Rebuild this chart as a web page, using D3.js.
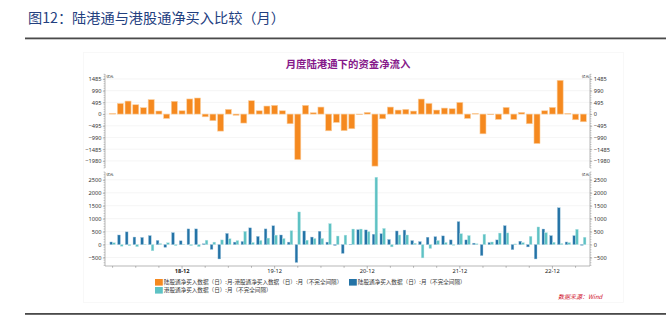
<!DOCTYPE html>
<html><head><meta charset="utf-8">
<script src="https://cdn.jsdelivr.net/npm/d3@7"></script>
<style>
html,body{margin:0;padding:0;background:#fff;}
svg{display:block;}
</style></head>
<body>
<svg id="c" width="666" height="329"></svg>
<script>
// Monthly categories, 2018-03 .. 2023-04
const months = [
  "18-03","18-04","18-05","18-06","18-07","18-08","18-09","18-10","18-11","18-12",
  "19-01","19-02","19-03","19-04","19-05","19-06","19-07","19-08","19-09","19-10","19-11","19-12",
  "20-01","20-02","20-03","20-04","20-05","20-06","20-07","20-08","20-09","20-10","20-11","20-12",
  "21-01","21-02","21-03","21-04","21-05","21-06","21-07","21-08","21-09","21-10","21-11","21-12",
  "22-01","22-02","22-03","22-04","22-05","22-06","22-07","22-08","22-09","22-10","22-11","22-12",
  "23-01","23-02","23-03","23-04"
];
// 陆股通 - 港股通 (亿元)
const flowDiff = [
  30, 450, 550, 395, 270, 610, 130, -185, 540, 140,
  640, 680, -115, -280, -720, 200, -50, -380, 565, 140, 340, 370,
  140, -410, -1925, 370, 57, 297, -707, -353, -700, -620, -20, 70,
  -2200, -200, 297, 170, 200, 127, 636, 452, 170, 254, 226, 495,
  -185, 30, -835, -25, -226, 283, -226, 70, -410, -1245, 140, 283,
  1428, 30, -240, -325
];
// 陆股通净买入 (亿元)
const northbound = [
  100, 370, 490, 290, 275, 345, 160, -105, 460, 145,
  605, 605, 30, -185, -555, 430, 95, 120, 645, 315, 605, 725,
  370, 95, -690, 525, 290, 515, 95, -35, -340, -10, 575, 565,
  400, 420, 195, 525, 560, 155, 115, 285, 305, 335, 180, 885,
  180, 55, -425, 80, 180, 730, -195, 130, -90, -555, 600, 345,
  1420, 100, 345, -30
];
// 港股通净买入 (亿元)
const southbound = [
  70, -65, -40, -80, 15, -240, 40, 70, -40, 15,
  -40, -80, 170, 95, 180, 225, 155, 510, 80, 160, 250, 365,
  235, 535, 1260, 170, 235, 235, 810, 330, 365, 600, 600, 500,
  2600, 625, -90, 370, 370, 50, -515, -150, 155, 80, -30, 420,
  350, 30, 400, 100, 445, 450, 25, 75, 320, 680, 460, 90,
  40, 75, 590, 285
];
const topTicks = [1485, 990, 495, 0, -495, -990, -1485, -1980];
const bottomTicks = [2500, 2000, 1500, 1000, 500, 0, -500];
const xLabels = ["18-12", "19-12", "20-12", "21-12", "22-12"];
const legendNames = [
  "陆股通净买入数据（日）:月-港股通净买入数据（日）:月（不完全间隔）",
  "陆股通净买入数据（日）:月（不完全间隔）",
  "港股通净买入数据（日）:月（不完全间隔）"
];

const C_DIFF = "#f5891f", C_NORTH = "#2473a6", C_SOUTH = "#5ec2c4";
const NUM_FONT = "'Noto Sans', 'DejaVu Sans', sans-serif";
const CJK_FONT = "'Noto Sans CJK SC', sans-serif";

const svg = d3.select("#c");

// Page heading and rules
svg.append("text").attr("x", 28).attr("y", 23)
  .attr("font-family", CJK_FONT).attr("font-size", 14.2).attr("fill", "#23407f")
  .text("图12：陆港通与港股通净买入比较（月）");
svg.append("rect").attr("x", 25).attr("y", 37.5).attr("width", 641).attr("height", 1.8).attr("fill", "#4a4a4a");
svg.append("rect").attr("x", 25).attr("y", 313).attr("width", 641).attr("height", 1.8).attr("fill", "#4a4a4a");

// faint chart frame
svg.append("rect").attr("x", 83.5).attr("y", 52.5).attr("width", 540).attr("height", 250)
  .attr("fill", "none").attr("stroke", "#f7f7f7").attr("stroke-width", 0.8);

// Chart title
svg.append("text").attr("x", 348).attr("y", 68).attr("text-anchor", "middle")
  .attr("font-family", CJK_FONT).attr("font-weight", "bold").attr("font-size", 10.4)
  .attr("fill", "#86198a").text("月度陆港通下的资金净流入");

const xL = 105, xR = 590;
const x = d3.scaleBand().domain(months).range([108.75, 587.15]).paddingInner(0.22).paddingOuter(0.11);
const cx = m => x(m) + x.bandwidth() / 2;

const yTop = d3.scaleLinear().domain([-2280, 1695]).range([168, 74]);
const yBot = d3.scaleLinear().domain([-827, 2801]).range([266, 172]);

function panel(y, ticks, minorStep, top, bottom) {
  // grid
  svg.append("g").selectAll("line").data(ticks).join("line")
    .attr("x1", xL).attr("x2", xR).attr("y1", d => y(d)).attr("y2", d => y(d))
    .attr("stroke", "#f0f0f0").attr("stroke-width", 0.7);
  // minor ticks on both axes
  const [d0, d1] = y.domain();
  const minors = d3.range(Math.ceil(d0 / minorStep) * minorStep, d1, minorStep);
  [[xL, -1.5], [xR, 1.5]].forEach(([ax, len]) => {
    svg.append("g").selectAll("line").data(minors).join("line")
      .attr("x1", ax).attr("x2", ax + len).attr("y1", d => y(d)).attr("y2", d => y(d))
      .attr("stroke", "#9a9a9a").attr("stroke-width", 0.5);
  });
  const fmt = d3.format("d");
  const left = svg.append("g").attr("transform", `translate(${xL},0)`)
    .call(d3.axisLeft(y).tickValues(ticks).tickFormat(fmt).tickSize(2.2).tickPadding(1.2));
  const right = svg.append("g").attr("transform", `translate(${xR},0)`)
    .call(d3.axisRight(y).tickValues(ticks).tickFormat(fmt).tickSize(2.2).tickPadding(1.5));
  [left, right].forEach(g => {
    g.select(".domain").remove();
    g.selectAll(".tick line").attr("stroke", "#8a8a8a").attr("stroke-width", 0.6);
    g.selectAll(".tick text").attr("font-family", NUM_FONT).attr("font-size", 5.7).attr("fill", "#333");
    g.append("line").attr("x1", 0).attr("x2", 0).attr("y1", top).attr("y2", bottom)
      .attr("stroke", "#9a9a9a").attr("stroke-width", 0.7);
  });
  // units
  svg.append("text").attr("x", xL + 1.2).attr("y", top + 3.6)
    .attr("font-family", CJK_FONT).attr("font-size", 3.6).attr("fill", "#222").text("亿元");
  svg.append("text").attr("x", xR - 1).attr("y", top + 3.6).attr("text-anchor", "end")
    .attr("font-family", CJK_FONT).attr("font-size", 3.6).attr("fill", "#222").text("亿元");
}

panel(yTop, topTicks, 99, 74, 168);
panel(yBot, bottomTicks, 100, 172, 266);

// Upper panel: net difference bars
svg.append("g").selectAll("rect").data(months).join("rect")
  .attr("x", m => x(m))
  .attr("width", x.bandwidth())
  .attr("y", (m, i) => Math.min(yTop(0), yTop(flowDiff[i])))
  .attr("height", (m, i) => Math.abs(yTop(flowDiff[i]) - yTop(0)))
  .attr("fill", C_DIFF).attr("stroke", "#fbcf9f").attr("stroke-width", 0.6);

// Lower panel: paired bars
const sub = d3.scaleBand().domain(["n", "s"]).range([-2.7, 2.7]);
const pairs = [["n", northbound, C_NORTH, "#9cc3dc"], ["s", southbound, C_SOUTH, "#bfe6e7"]];
pairs.forEach(([key, vals, col, edge]) => {
  svg.append("g").selectAll("rect").data(months).join("rect")
    .attr("x", m => cx(m) + sub(key))
    .attr("width", sub.bandwidth())
    .attr("y", (m, i) => Math.min(yBot(0), yBot(vals[i])))
    .attr("height", (m, i) => Math.abs(yBot(vals[i]) - yBot(0)))
    .attr("fill", col).attr("stroke", edge).attr("stroke-width", 0.4);
});

// Time axis of the lower panel
svg.append("line").attr("x1", xL).attr("x2", xR).attr("y1", 266).attr("y2", 266)
  .attr("stroke", "#9a9a9a").attr("stroke-width", 0.7);
const quarterMonths = months.filter(m => ["03", "06", "09", "12"].includes(m.slice(3)));
svg.append("g").selectAll("line").data(quarterMonths).join("line")
  .attr("x1", cx).attr("x2", cx).attr("y1", 266)
  .attr("y2", m => xLabels.includes(m) ? 268.6 : 267.8)
  .attr("stroke", "#8a8a8a").attr("stroke-width", 0.6);
svg.append("g").selectAll("text").data(xLabels).join("text")
  .attr("x", cx).attr("y", 273.2).attr("text-anchor", "middle")
  .attr("font-family", NUM_FONT).attr("font-size", 5.7).attr("fill", "#222")
  .attr("font-weight", (d, i) => i === 0 ? "bold" : "normal")
  .text(d => d);

// Legend
const legendItems = [
  { x: 155, y: 279, color: C_DIFF, name: legendNames[0] },
  { x: 349, y: 279, color: C_NORTH, name: legendNames[1] },
  { x: 155, y: 287, color: C_SOUTH, name: legendNames[2] }
];
const lg = svg.append("g").selectAll("g").data(legendItems).join("g")
  .attr("transform", d => `translate(${d.x},${d.y})`);
lg.append("rect").attr("width", 7.8).attr("height", 6.6).attr("fill", d => d.color);
lg.append("text").attr("x", 8.8).attr("y", 5.4)
  .attr("font-family", CJK_FONT).attr("font-size", 5.6).attr("fill", "#333")
  .text(d => d.name);

// Source note
svg.append("text").attr("x", 558).attr("y", 299)
  .attr("font-family", CJK_FONT).attr("font-size", 6).attr("font-style", "italic")
  .attr("fill", "#d0102a").text("数据来源：Wind");
</script>
</body></html>
